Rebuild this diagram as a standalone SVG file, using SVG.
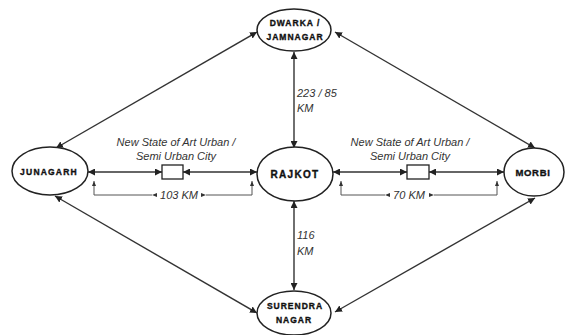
<svg xmlns="http://www.w3.org/2000/svg" width="567" height="335" viewBox="0 0 567 335">
<defs>
<marker id="ah" viewBox="0 0 10 10" refX="10" refY="5" markerWidth="5" markerHeight="5" orient="auto-start-reverse" markerUnits="strokeWidth"><path d="M0,0 L10,5 L0,10 Z" fill="#222"/></marker>
<marker id="ahs" viewBox="0 0 10 10" refX="10" refY="5" markerWidth="5" markerHeight="5" orient="auto" markerUnits="userSpaceOnUse"><path d="M0,1 L10,5 L0,9 Z" fill="#333"/></marker>
<style>
.node ellipse{fill:#fff;stroke:#222;stroke-width:1.5}
.nl{font-family:"Liberation Sans",Arial,sans-serif;font-weight:bold;fill:#111;stroke:#111;stroke-width:0.35;text-anchor:middle}
.conn line{stroke:#333;stroke-width:1.4;marker-start:url(#ah);marker-end:url(#ah)}
.dim{fill:none;stroke:#555;stroke-width:1;marker-start:url(#ahs);marker-end:url(#ahs)}
.lbl{font-family:"Liberation Sans",Arial,sans-serif;font-style:italic;font-size:11px;fill:#333}
.box{fill:#fff;stroke:#222;stroke-width:1.3}
</style>
</defs>
<rect width="567" height="335" fill="#fff"/>
<g class="conn" id="connectors">
<line x1="294" y1="52" x2="294" y2="148"/>
<line x1="294" y1="201" x2="294" y2="290"/>
<line x1="88" y1="172" x2="162" y2="172"/>
<line x1="183" y1="172" x2="257" y2="172"/>
<line x1="333" y1="172" x2="407" y2="172"/>
<line x1="429" y1="172" x2="504" y2="172"/>
<line x1="56" y1="148" x2="257" y2="32"/>
<line x1="335" y1="32" x2="535" y2="148"/>
<line x1="55" y1="196" x2="257" y2="313"/>
<line x1="535" y1="198" x2="335" y2="312"/>
<path class="dim" d="M152,195 H94 V181"/>
<path class="dim" d="M206,195 H252 V181"/>
<path class="dim" d="M385,195 H341 V181"/>
<path class="dim" d="M434,195 H497 V181"/>
</g>
<g id="box-left"><rect class="box" x="162" y="165" width="21" height="14"/></g>
<g id="box-right"><rect class="box" x="407" y="165" width="22" height="14"/></g>
<g class="node" id="dwarka"><ellipse cx="294" cy="30" rx="37" ry="21"/>
<text class="nl" font-size="8.5" letter-spacing="1" x="295" y="26">DWARKA /</text>
<text class="nl" font-size="8.5" letter-spacing="1" x="295" y="40">JAMNAGAR</text></g>
<g class="node" id="junagarh"><ellipse cx="50" cy="171" rx="38" ry="24"/>
<text class="nl" font-size="8.5" letter-spacing="1.2" x="49" y="174.5">JUNAGARH</text></g>
<g class="node" id="rajkot"><ellipse cx="295" cy="174" rx="38" ry="27"/>
<text class="nl" font-size="10" letter-spacing="1.3" x="295" y="178">RAJKOT</text></g>
<g class="node" id="morbi"><ellipse cx="534" cy="172" rx="30" ry="24"/>
<text class="nl" font-size="9.5" letter-spacing="0.7" x="533" y="175.5">MORBI</text></g>
<g class="node" id="surendra"><ellipse cx="294" cy="313" rx="37" ry="22"/>
<text class="nl" font-size="8.5" letter-spacing="1" x="295" y="309">SURENDRA</text>
<text class="nl" font-size="8.5" letter-spacing="1" x="294" y="323">NAGAR</text></g>
<g id="labels">
<text class="lbl" x="176" y="146" text-anchor="middle">New State of Art Urban /</text>
<text class="lbl" x="176" y="160" text-anchor="middle">Semi Urban City</text>
<text class="lbl" x="410" y="146" text-anchor="middle">New State of Art Urban /</text>
<text class="lbl" x="410" y="160" text-anchor="middle">Semi Urban City</text>
<text class="lbl" x="179" y="199" text-anchor="middle">103 KM</text>
<text class="lbl" x="409" y="199" text-anchor="middle">70 KM</text>
<text class="lbl" x="297" y="97">223 / 85</text>
<text class="lbl" x="297" y="112">KM</text>
<text class="lbl" x="297" y="239">116</text>
<text class="lbl" x="297" y="255">KM</text>
</g>
</svg>
